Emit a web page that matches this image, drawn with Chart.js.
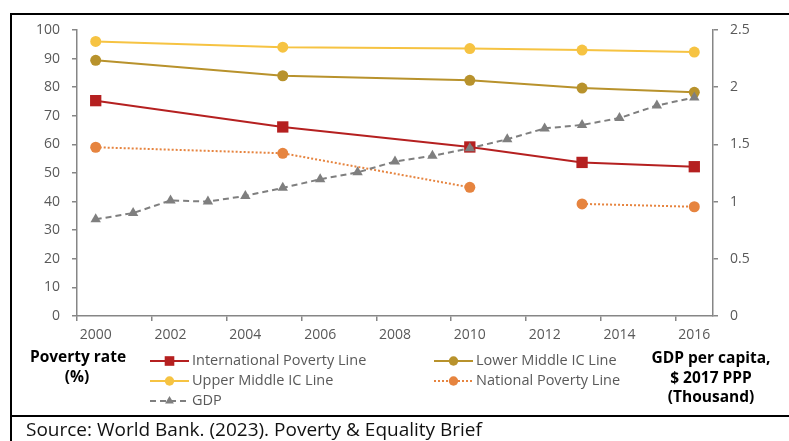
<!DOCTYPE html>
<html>
<head>
<meta charset="utf-8">
<script src="https://cdn.jsdelivr.net/npm/chart.js@4"></script>
<style>
  html, body { margin: 0; padding: 0; background: #fff; }
  #wrap { width: 789px; height: 441px; position: relative; }
</style>
</head>
<body>
<div id="wrap"><canvas id="chart" width="789" height="441"></canvas></div>
<script>
// years on the category axis, labelled every second year
const years = [2000, 2001, 2002, 2003, 2004, 2005, 2006, 2007, 2008,
  2009, 2010, 2011, 2012, 2013, 2014, 2015, 2016];

// poverty rates (%), surveys only in some years
const internationalLine = [75.3, null, null, null, null, 66.1, null, null, null, null, 59.1, null, null, 53.7, null, null, 52.2];
const lowerMiddleLine = [89.4, null, null, null, null, 84.0, null, null, null, null, 82.4, null, null, 79.7, null, null, 78.2];
const upperMiddleLine = [96.0, null, null, null, null, 94.0, null, null, null, null, 93.5, null, null, 93.0, null, null, 92.3];
const nationalLine = [59.0, null, null, null, null, 56.9, null, null, null, null, 45.0, null, null, 39.2, null, null, 38.2];
// national series is not joined across the methodology change
const nationalBreakAfter = 2010;

// GDP per capita, $ 2017 PPP (thousand)
const gdp = [0.845, 0.90, 1.01, 1.00, 1.05, 1.12, 1.195, 1.256, 1.35,
  1.40, 1.466, 1.545, 1.64, 1.67, 1.73, 1.84, 1.91];

const leftTicks = [0, 10, 20, 30, 40, 50, 60, 70, 80, 90, 100];
const rightTicks = [0, 0.5, 1, 1.5, 2, 2.5];

const FONT = "'Open Sans', sans-serif";
const AXIS_GREY = '#868686';
const TEXT_GREY = '#595959';

const C_INTL = '#B52020';
const C_LOWER = '#B8922C';
const C_UPPER = '#F6C342';
const C_NAT = '#E6843F';
const C_GDP = '#7F7F7F';

// last non-empty point before index i
const prevIndex = (data, i) => {
  let j = i - 1;
  while (j >= 0 && data[j] == null) j--;
  return j;
};

// frame, legend and side captions
const extras = {
  id: 'extras',
  afterDraw(chart) {
    const ctx = chart.ctx;
    ctx.save();

    // table-like frame
    ctx.strokeStyle = '#000';
    ctx.lineWidth = 2;
    ctx.beginPath();
    ctx.moveTo(11, 441); ctx.lineTo(11, 14); ctx.lineTo(789, 14);
    ctx.moveTo(10, 416); ctx.lineTo(789, 416);
    ctx.stroke();

    // legend, two columns
    const items = [
      { ds: 1, x: 150, y: 361 },
      { ds: 2, x: 434, y: 361 },
      { ds: 3, x: 150, y: 381 },
      { ds: 4, x: 434, y: 381 },
      { ds: 0, x: 150, y: 401 }
    ];
    items.forEach(it => {
      const d = chart.data.datasets[it.ds];
      ctx.save();
      ctx.strokeStyle = d.borderColor;
      ctx.lineWidth = d.borderWidth;
      ctx.setLineDash(d.borderDash || []);
      ctx.beginPath();
      ctx.moveTo(it.x, it.y);
      ctx.lineTo(it.x + 39, it.y);
      ctx.stroke();
      ctx.restore();
      ctx.fillStyle = d.pointBackgroundColor;
      Chart.helpers.drawPoint(ctx, {
        pointStyle: d.pointStyle,
        rotation: 0,
        radius: d.pointRadius * 0.85,
        borderWidth: 0
      }, it.x + 19.5, it.y);
      ctx.fillStyle = TEXT_GREY;
      ctx.font = '14.5px ' + FONT;
      ctx.textAlign = 'left';
      ctx.textBaseline = 'middle';
      ctx.fillText(d.label, it.x + 42, it.y);
    });

    // axis captions
    ctx.fillStyle = '#000';
    ctx.font = 'bold 15.5px ' + FONT;
    ctx.textAlign = 'center';
    ctx.textBaseline = 'middle';
    ctx.fillText('Poverty rate', 78, 358);
    ctx.fillText('(%)', 77, 378);
    ctx.fillText('GDP per capita,', 711, 359);
    ctx.fillText('$ 2017 PPP', 711, 379);
    ctx.fillText('(Thousand)', 711, 398);

    // source line
    ctx.font = '19px ' + FONT;
    ctx.textAlign = 'left';
    ctx.fillStyle = '#111';
    ctx.fillText('Source: World Bank. (2023). Poverty & Equality Brief', 26, 431);

    ctx.restore();
  }
};

const lineSet = (label, data, color, style, radius, extra) => Object.assign({
  label: label,
  data: data,
  yAxisID: 'y',
  borderColor: color,
  backgroundColor: color,
  pointBackgroundColor: color,
  pointBorderWidth: 0,
  pointStyle: style,
  pointRadius: radius,
  borderWidth: 2,
  spanGaps: true,
  tension: 0,
  fill: false
}, extra || {});

new Chart(document.getElementById('chart'), {
  type: 'line',
  data: {
    labels: years.map(String),
    datasets: [
      lineSet('GDP', gdp, C_GDP, 'triangle', 6, { yAxisID: 'y2', borderDash: [6, 4], order: 0 }),
      lineSet('International Poverty Line', internationalLine, C_INTL, 'rect', 8, { order: 1 }),
      lineSet('Lower Middle IC Line', lowerMiddleLine, C_LOWER, 'circle', 5.5, { order: 2 }),
      lineSet('Upper Middle IC Line', upperMiddleLine, C_UPPER, 'circle', 5.5, { order: 3 }),
      lineSet('National Poverty Line', nationalLine, C_NAT, 'circle', 5.5, {
        borderDash: [2, 2],
        order: 4,
        segment: {
          borderColor: s => years[prevIndex(nationalLine, s.p1DataIndex)] === nationalBreakAfter
            ? 'rgba(0,0,0,0)' : undefined
        }
      })
    ]
  },
  options: {
    responsive: false,
    animation: false,
    layout: { padding: { left: 0, right: 0, top: 30, bottom: 0 } },
    plugins: {
      legend: { display: false },
      tooltip: { enabled: false }
    },
    scales: {
      x: {
        type: 'category',
        offset: true,
        afterFit: s => { s.height = 125; },
        border: { display: true, color: AXIS_GREY, width: 1.5 },
        grid: {
          offset: true,
          drawOnChartArea: false,
          drawTicks: true,
          tickLength: 5,
          color: c => (c.index % 2 === 0 ? AXIS_GREY : 'rgba(0,0,0,0)'),
          lineWidth: 1.5
        },
        ticks: {
          autoSkip: false,
          maxRotation: 0,
          padding: 6,
          color: TEXT_GREY,
          font: { family: FONT, size: 14 },
          callback: (v, i) => (i % 2 === 0 ? years[i] : '')
        }
      },
      y: {
        position: 'left',
        min: 0,
        max: 100,
        afterFit: s => { s.width = 77; },
        afterBuildTicks: s => { s.ticks = leftTicks.map(v => ({ value: v })); },
        border: { display: true, color: AXIS_GREY, width: 1.5 },
        grid: { drawOnChartArea: false, tickLength: 5, color: AXIS_GREY, lineWidth: 1.5 },
        ticks: { padding: 12, color: TEXT_GREY, font: { family: FONT, size: 14 } }
      },
      y2: {
        position: 'right',
        min: 0,
        max: 2.5,
        afterFit: s => { s.width = 76; },
        afterBuildTicks: s => { s.ticks = rightTicks.map(v => ({ value: v })); },
        border: { display: true, color: AXIS_GREY, width: 1.5 },
        grid: { drawOnChartArea: false, tickLength: 5, color: AXIS_GREY, lineWidth: 1.5 },
        ticks: {
          padding: 12,
          color: TEXT_GREY,
          font: { family: FONT, size: 14 },
          callback: v => String(v)
        }
      }
    }
  },
  plugins: [extras]
});
</script>
</body>
</html>
